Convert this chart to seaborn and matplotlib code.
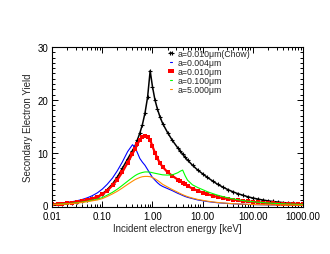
import numpy as np
import pandas as pd
import matplotlib
matplotlib.use("Agg")
import matplotlib.pyplot as plt
import seaborn as sns
from matplotlib.ticker import FixedLocator, FixedFormatter, LogLocator, MultipleLocator, NullFormatter

energy = [0.01, 0.013, 0.016, 0.02, 0.025, 0.032, 0.04, 0.05, 0.063, 0.08,
          0.1, 0.125, 0.16, 0.2, 0.25, 0.32, 0.4, 0.45, 0.5, 0.56,
          0.63, 0.71, 0.8, 0.9, 1.0, 1.12, 1.26, 1.41, 1.6, 2.0,
          2.5, 3.2, 3.6, 4.0, 4.5, 5.0, 6.3, 8.0, 10, 12.5,
          16, 20, 25, 32, 40, 50, 63, 80, 100, 125,
          160, 200, 250, 320, 400, 500, 630, 800, 1000]

yield_chow = [0.25, 0.3, 0.36, 0.44, 0.55, 0.68, 0.85, 1.05, 1.35, 1.7,
              2.2, 3.0, 4.1, 5.4, 7.0, 8.8, 10.4, 11.3, 12.4, 13.7,
              15.3, 17.5, 20.5, 25.5, 22.5, 20.0, 18.2, 16.8, 15.5, 13.8,
              12.3, 10.9, 10.3, 9.7, 9.1, 8.6, 7.6, 6.7, 6.0, 5.3,
              4.6, 4.0, 3.5, 3.0, 2.6, 2.25, 1.95, 1.65, 1.42, 1.22,
              1.03, 0.88, 0.76, 0.64, 0.55, 0.47, 0.4, 0.34, 0.29]

yield_004 = [0.3, 0.38, 0.47, 0.58, 0.72, 0.92, 1.15, 1.45, 1.85, 2.4,
             3.1, 4.0, 5.2, 6.6, 8.2, 10.2, 11.5, 11.0, 10.0, 8.9,
             8.2, 7.6, 6.8, 6.0, 5.3, 4.8, 4.3, 3.9, 3.6, 3.2,
             2.8, 2.3, 2.1, 1.9, 1.7, 1.55, 1.3, 1.05, 0.9, 0.75,
             0.62, 0.52, 0.45, 0.38, 0.33, 0.28, 0.24, 0.2, 0.17, 0.15,
             0.13, 0.11, 0.1, 0.09, 0.08, 0.07, 0.06, 0.06, 0.05]

yield_010 = [0.25, 0.3, 0.37, 0.45, 0.55, 0.7, 0.85, 1.05, 1.3, 1.6,
             2.1, 2.8, 3.8, 4.9, 6.3, 8.1, 9.8, 10.7, 11.6, 12.4,
             13.0, 13.2, 13.0, 12.4, 11.2, 10.0, 8.9, 8.0, 7.3, 6.3,
             5.6, 4.9, 4.6, 4.3, 4.0, 3.7, 3.2, 2.8, 2.45, 2.15,
             1.85, 1.6, 1.42, 1.25, 1.1, 0.97, 0.86, 0.76, 0.68, 0.6,
             0.53, 0.47, 0.42, 0.37, 0.33, 0.29, 0.26, 0.23, 0.2]

yield_100 = [0.2, 0.24, 0.29, 0.35, 0.42, 0.52, 0.65, 0.8, 1.0, 1.2,
             1.5, 1.95, 2.5, 3.1, 3.8, 4.6, 5.3, 5.65, 5.9, 6.1,
             6.25, 6.35, 6.35, 6.3, 6.2, 6.1, 6.0, 5.9, 5.8, 5.75,
             5.8, 6.2, 6.5, 6.7, 5.6, 4.8, 3.9, 3.4, 3.0, 2.6,
             2.25, 1.95, 1.7, 1.45, 1.25, 1.1, 0.95, 0.82, 0.72, 0.63,
             0.55, 0.48, 0.42, 0.37, 0.32, 0.28, 0.25, 0.22, 0.2]

yield_5000 = [0.15, 0.19, 0.24, 0.3, 0.37, 0.46, 0.58, 0.72, 0.88, 1.05,
              1.3, 1.7, 2.2, 2.7, 3.3, 4.0, 4.6, 4.9, 5.1, 5.3,
              5.45, 5.5, 5.5, 5.45, 5.3, 5.05, 4.75, 4.4, 4.0, 3.5,
              3.0, 2.5, 2.25, 2.05, 1.85, 1.68, 1.4, 1.15, 0.98, 0.82,
              0.68, 0.57, 0.49, 0.41, 0.35, 0.3, 0.26, 0.22, 0.19, 0.16,
              0.14, 0.12, 0.11, 0.1, 0.09, 0.08, 0.07, 0.06, 0.06]

labels = ["a=0.010\u03bcm(Chow)", "a=0.004\u03bcm", "a=0.010\u03bcm",
          "a=0.100\u03bcm", "a=5.000\u03bcm"]
xtick_values = [0.01, 0.1, 1, 10, 100, 1000]
xtick_labels = ["0.01", "0.10", "1.00", "10.00", "100.00", "1000.00"]
ytick_values = [0, 10, 20, 30]

sns.set_theme(style="ticks")
plt.rcParams["font.family"] = ["Liberation Sans", "DejaVu Sans"]
plt.rcParams["font.size"] = 7

df = pd.DataFrame({"energy": energy, "chow": yield_chow, "a004": yield_004,
                   "a010": yield_010, "a100": yield_100, "a5000": yield_5000})

fig = plt.figure(figsize=(3.3, 2.55), dpi=100)
ax = fig.add_axes([0.158, 0.184, 0.76, 0.628])

sns.lineplot(data=df, x="energy", y="chow", ax=ax, color="black", lw=1.1,
             marker="+", markersize=3, markeredgewidth=0.8, markeredgecolor="black",
             label=labels[0], estimator=None, sort=False)
sns.lineplot(data=df, x="energy", y="a004", ax=ax, color="#0000ff", lw=0.8,
             label=labels[1], estimator=None, sort=False)
sns.lineplot(data=df, x="energy", y="a010", ax=ax, color="#ff0000", lw=1.6,
             marker="s", markersize=3.3, markeredgewidth=0, markerfacecolor="#ff0000",
             label=labels[2], estimator=None, sort=False)
sns.lineplot(data=df, x="energy", y="a100", ax=ax, color="#00ff00", lw=0.8,
             label=labels[3], estimator=None, sort=False)
sns.lineplot(data=df, x="energy", y="a5000", ax=ax, color="#ff8c00", lw=0.8,
             label=labels[4], estimator=None, sort=False)

ax.set_xscale("log")
ax.set_xlim(0.01, 1000)
ax.set_ylim(-0.3, 30)
ax.xaxis.set_major_locator(FixedLocator(xtick_values))
ax.xaxis.set_major_formatter(FixedFormatter(xtick_labels))
ax.xaxis.set_minor_locator(LogLocator(base=10, subs=np.arange(2, 10), numticks=20))
ax.xaxis.set_minor_formatter(NullFormatter())
ax.yaxis.set_major_locator(FixedLocator(ytick_values))
ax.yaxis.set_minor_locator(MultipleLocator(1))

ax.tick_params(which="both", direction="in", top=True, right=True,
               colors="black", labelsize=7, width=0.7)
ax.tick_params(which="major", length=4, pad=3)
ax.tick_params(which="minor", length=2)
for s in ax.spines.values():
    s.set_linewidth(0.8)
    s.set_color("black")

ax.set_xlabel("Incident electron energy [keV]", fontsize=7, labelpad=1)
ax.set_ylabel("Secondary Electron Yield", fontsize=7, labelpad=3)

leg = ax.legend(loc="upper left", bbox_to_anchor=(0.46, 0.985), frameon=False,
                fontsize=6.3, handlelength=0.8, handletextpad=0.3,
                labelspacing=0.0, borderpad=0, borderaxespad=0,
                markerscale=0.8, numpoints=2)

fig.savefig("out.png", dpi=100, facecolor="white")
